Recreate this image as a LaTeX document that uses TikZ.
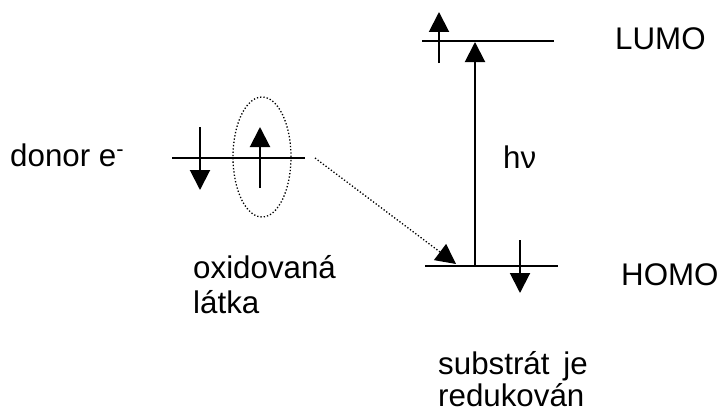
\documentclass[tikz,border=0pt]{standalone}
\usepackage{fontspec}
\setmainfont{Liberation Sans}
\usetikzlibrary{arrows.meta,shapes.geometric}
\begin{document}
\begin{tikzpicture}[x=1pt,y=-1pt,
  lvl/.style={line width=2pt},
  spin/.style={line width=2pt,-{Triangle[width=20pt,length=20pt]}},
  transfer/.style={line width=1.3pt,dotted,-{Triangle[width=20pt,length=20pt]}},
  lbl/.style={font=\fontsize{31.3}{36}\selectfont,anchor=base west,inner sep=0pt}]
\useasboundingbox (0,0) rectangle (722,412);
% donor level
\coordinate (Dl) at (172,158); \coordinate (Dr) at (305,158);
\draw[lvl] (Dl) -- (Dr);
\coordinate (d1s) at (200,127); \coordinate (d1e) at (200,190);
\draw[spin] (d1s) -- (d1e);
\coordinate (d2s) at (260,188); \coordinate (d2e) at (260,127);
\draw[spin] (d2s) -- (d2e);
\node[draw,dotted,line width=1.3pt,ellipse,minimum width=58pt,minimum height=120pt,inner sep=0pt] (ell) at (262,157) {};
% LUMO
\coordinate (Ll) at (422,41); \coordinate (Lr) at (554,41);
\draw[lvl] (Ll) -- (Lr);
\coordinate (l1s) at (439,63); \coordinate (l1e) at (439,12);
\draw[spin] (l1s) -- (l1e);
% HOMO
\coordinate (Hl) at (425,266); \coordinate (Hr) at (558,266);
\draw[lvl] (Hl) -- (Hr);
\coordinate (h1s) at (520,240); \coordinate (h1e) at (520,293);
\draw[spin] (h1s) -- (h1e);
% excitation
\coordinate (ex0) at (475,266); \coordinate (ex1) at (475,42);
\draw[spin] (ex0) -- (ex1);
% electron transfer
\coordinate (t0) at (315,158); \coordinate (t1) at (456,264);
\draw[transfer] (t0) -- (t1);
% labels
\node[lbl] (donor) at (10,166) {donor e\textsuperscript{-}};
\node[lbl] (hnu) at (503,168) {hν};
\node[lbl] (lumo) at (615,50) {LUMO};
\node[lbl] (homo) at (621,285) {HOMO};
\node[lbl] (ox1) at (193,278) {oxidovaná};
\node[lbl] (ox2) at (193,313) {látka};
\node[lbl] (sub1) at (438,374) {substrát\, je};
\node[lbl] (sub2) at (438,406) {redukován};
\end{tikzpicture}
\end{document}
